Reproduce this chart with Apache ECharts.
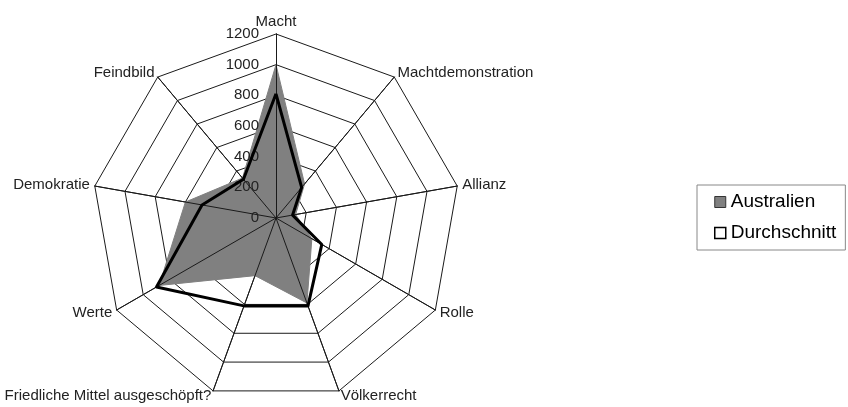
<!DOCTYPE html>
<html><head><meta charset="utf-8">
<script src="https://cdn.jsdelivr.net/npm/echarts@6/dist/echarts.min.js"></script>
<style>html,body{margin:0;padding:0;background:#fff}#c{width:848px;height:407px}</style>
</head><body><div id="c"></div>
<script>
// categories in reference order (clockwise from top)
const categories = ['Macht','Machtdemonstration','Allianz','Rolle','Völkerrecht','Friedliche Mittel ausgeschöpft?','Werte','Demokratie','Feindbild'];
const australien = [1000, 290, 130, 270, 590, 400, 880, 600, 340];
const durchschnitt = [810, 260, 110, 345, 610, 610, 900, 490, 330];
const axisMax = 1200;
const axisTicks = ['0','200','400','600','800','1000','1200'];
const seriesNames = ['Australien', 'Durchschnitt'];

// ECharts radar runs counter-clockwise; reorder to get clockwise layout
const order = [0].concat(categories.map((_, i) => i).slice(1).reverse());
const reorder = arr => order.map(i => arr[i]);

const FONT = '"Liberation Sans", Arial, sans-serif';
const LINE = '#1a1a1a';

const chart = echarts.init(document.getElementById('c'), null, { renderer: 'canvas' });
chart.setOption({
  animation: false,
  backgroundColor: '#fff',
  textStyle: { fontFamily: FONT },
  legend: {
    orient: 'vertical',
    left: 697, top: 185,
    padding: [7, 9, 7, 17],
    borderColor: '#888', borderWidth: 1,
    itemWidth: 11, itemHeight: 11, itemGap: 11,
    icon: 'rect',
    textStyle: { fontSize: 19, color: '#000', fontFamily: FONT, lineHeight: 20 },
    data: [
      { name: seriesNames[0], itemStyle: { color: '#808080', borderColor: '#333', borderWidth: 1 } },
      { name: seriesNames[1], itemStyle: { color: '#fff', borderColor: '#000', borderWidth: 1.5 } }
    ]
  },
  radar: [
    {
      center: [276, 218], radius: 184, startAngle: 90,
      shape: 'polygon', splitNumber: 6,
      indicator: reorder(categories).map(n => ({ name: n, max: axisMax, min: 0 })),
      nameGap: 5,
      axisName: { color: '#222', fontSize: 15, fontFamily: FONT },
      axisLine: { show: true, lineStyle: { color: LINE, width: 1 } },
      splitLine: { show: true, lineStyle: { color: LINE, width: 1 } },
      splitArea: { show: false },
      axisTick: { show: false },
      axisLabel: { show: false }
    },
    {
      center: [276, 218], radius: 184, startAngle: 90,
      shape: 'polygon', splitNumber: 6, z: 3,
      indicator: reorder(categories).map((n, k) => {
        const o = { name: n, max: axisMax, min: 0 };
        if (k === 0) o.axisLabel = { show: true };
        return o;
      }),
      axisName: { show: false },
      axisLine: { show: true, lineStyle: { color: LINE, width: 1 } },
      splitLine: { show: false },
      splitArea: { show: false },
      axisTick: { show: false },
      axisLabel: { show: false, color: '#222', fontSize: 15, fontFamily: FONT, margin: 17,
        formatter: (v) => axisTicks[Math.round(v / (axisMax / (axisTicks.length - 1)))] }
    }
  ],
  series: [
    {
      name: seriesNames[0], type: 'radar', radarIndex: 0, z: 2,
      symbol: 'none',
      lineStyle: { color: '#808080', width: 1 },
      areaStyle: { color: '#808080', opacity: 1 },
      itemStyle: { color: '#808080' },
      data: [{ name: seriesNames[0], value: reorder(australien) }]
    },
    {
      name: seriesNames[1], type: 'radar', radarIndex: 0, z: 4,
      symbol: 'none',
      lineStyle: { color: '#000', width: 3 },
      itemStyle: { color: '#fff' },
      data: [{ name: seriesNames[1], value: reorder(durchschnitt) }]
    }
  ]
});
</script></body></html>
